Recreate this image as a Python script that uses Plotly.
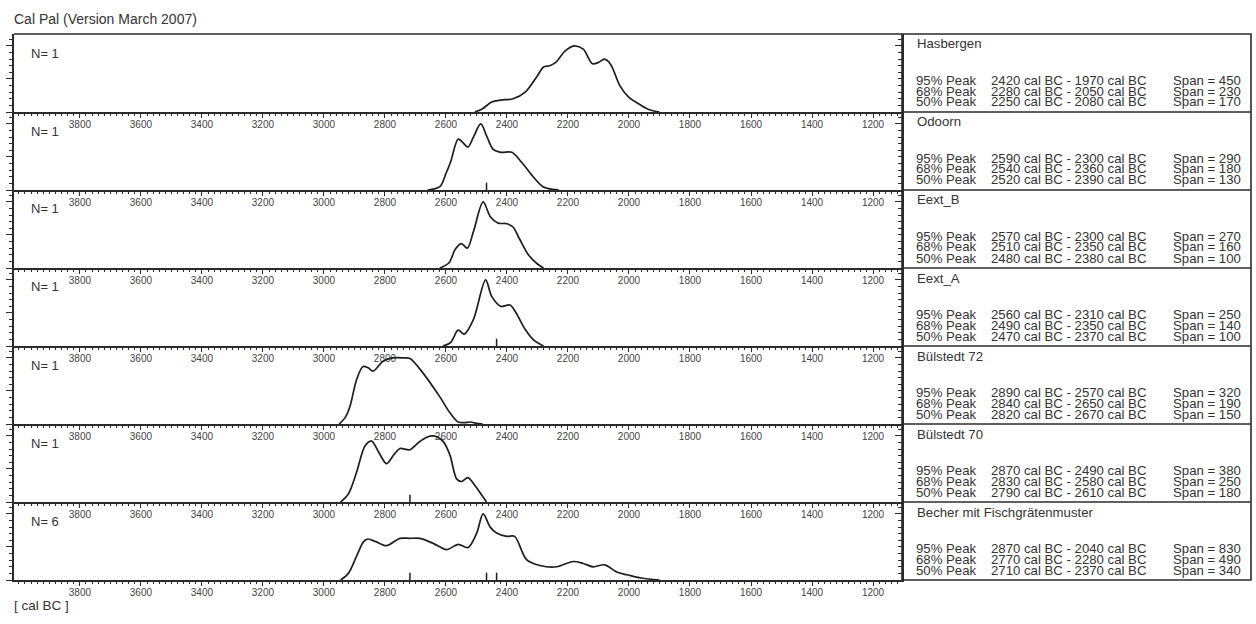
import plotly.graph_objects as go

W, H = 1256, 624

title_text = "Cal Pal (Version March 2007)"
axis_unit = "[ cal BC ]"

names = ["Hasbergen", "Odoorn", "Eext_B", "Eext_A", "Bülstedt 72", "Bülstedt 70",
         "Becher mit Fischgrätenmuster"]
n_dates = [1, 1, 1, 1, 1, 1, 6]

# peak ranges (start, end) in cal BC for 95%, 68%, 50%
peak95 = [(2420, 1970), (2590, 2300), (2570, 2300), (2560, 2310), (2890, 2570), (2870, 2490), (2870, 2040)]
peak68 = [(2280, 2050), (2540, 2360), (2510, 2350), (2490, 2350), (2840, 2650), (2830, 2580), (2770, 2280)]
peak50 = [(2250, 2080), (2520, 2390), (2480, 2380), (2470, 2370), (2820, 2670), (2790, 2610), (2710, 2370)]

# probability curves (years cal BC, relative density)
hasbergen_x = [2505, 2480, 2450, 2420, 2380, 2340, 2300, 2280, 2260, 2240, 2210, 2180, 2150, 2120, 2100, 2080, 2060, 2030, 2000, 1960, 1930, 1900]
hasbergen_y = [0, 0.05, 0.15, 0.18, 0.2, 0.3, 0.55, 0.68, 0.7, 0.75, 0.92, 1.0, 0.95, 0.73, 0.75, 0.8, 0.72, 0.4, 0.22, 0.1, 0.03, 0]

odoorn_x = [2660, 2620, 2600, 2585, 2560, 2545, 2528, 2510, 2486, 2465, 2446, 2420, 2384, 2352, 2314, 2282, 2250, 2230]
odoorn_y = [0, 0.05, 0.25, 0.42, 0.77, 0.72, 0.65, 0.8, 1.0, 0.8, 0.62, 0.57, 0.57, 0.42, 0.2, 0.05, 0.01, 0]

eextb_x = [2620, 2590, 2570, 2550, 2530, 2510, 2478, 2455, 2430, 2400, 2380, 2360, 2330, 2300, 2280]
eextb_y = [0, 0.08, 0.28, 0.37, 0.3, 0.55, 1.0, 0.78, 0.68, 0.67, 0.62, 0.45, 0.2, 0.06, 0]

eexta_x = [2610, 2585, 2560, 2540, 2510, 2470, 2450, 2420, 2390, 2370, 2340, 2310, 2280]
eexta_y = [0, 0.05, 0.24, 0.18, 0.4, 1.0, 0.75, 0.6, 0.62, 0.5, 0.25, 0.08, 0]

bul72_x = [2950, 2930, 2915, 2893, 2872, 2855, 2839, 2806, 2774, 2740, 2718, 2675, 2620, 2587, 2560, 2540, 2520, 2500, 2480]
bul72_y = [0, 0.1, 0.26, 0.67, 0.87, 0.85, 0.8, 0.95, 1.0, 1.0, 0.99, 0.77, 0.41, 0.17, 0.03, 0.02, 0.03, 0.01, 0]

bul70_x = [2945, 2920, 2893, 2865, 2844, 2820, 2795, 2770, 2751, 2718, 2690, 2663, 2640, 2610, 2587, 2565, 2549, 2528, 2505, 2488, 2467]
bul70_y = [0, 0.12, 0.45, 0.85, 0.92, 0.75, 0.58, 0.72, 0.81, 0.79, 0.9, 0.98, 1.0, 0.92, 0.71, 0.35, 0.31, 0.37, 0.25, 0.14, 0]

becher_x = [2945, 2920, 2893, 2870, 2856, 2830, 2795, 2751, 2720, 2685, 2640, 2598, 2560, 2528, 2500, 2478, 2455, 2434, 2400, 2375, 2336, 2292, 2237, 2183, 2150, 2118, 2079, 2040, 2007, 1960, 1900]
becher_y = [0, 0.1, 0.36, 0.58, 0.62, 0.58, 0.52, 0.63, 0.63, 0.63, 0.55, 0.46, 0.54, 0.49, 0.7, 1.0, 0.8, 0.71, 0.66, 0.66, 0.31, 0.22, 0.2, 0.28, 0.25, 0.2, 0.23, 0.12, 0.08, 0.03, 0]

curves_x = [hasbergen_x, odoorn_x, eextb_x, eexta_x, bul72_x, bul70_x, becher_x]
curves_y = [hasbergen_y, odoorn_y, eextb_y, eexta_y, bul72_y, bul70_y, becher_y]

# short vertical markers on the baseline (cal BC)
markers = [[], [2467], [], [2434], [], [2718], [2718, 2467, 2434]]

tick_years = list(range(3800, 1199, -200))
tick_text = [str(v) for v in tick_years]

X_RANGE = [4016, 1105]
Y_RANGE = [0, 1.18]

# layout geometry (pixels)
PLOT_L, PLOT_R = 14, 902
BOX_R = 1251
TOP0, PANEL_H = 34, 78
FONT = "Liberation Sans, Arial, sans-serif"
INK = "#2b2b2b"
TXT = "#333333"
BOX_FS = 13.2


def px_x(p):
    return p / W


def px_y(p):
    return 1 - p / H


fig = go.Figure()
n = len(names)

for i in range(n):
    k = "" if i == 0 else str(i + 1)
    xa, ya = "x" + k, "y" + k
    fig.add_trace(go.Scatter(x=curves_x[i], y=curves_y[i], mode="lines",
                             line=dict(color="#1e1e1e", width=1.7, shape="spline", smoothing=0.9),
                             xaxis=xa, yaxis=ya, showlegend=False, hoverinfo="skip"))
    for m in markers[i]:
        fig.add_trace(go.Scatter(x=[m, m], y=[0, 0.11], mode="lines",
                                 line=dict(color="#1e1e1e", width=1.5),
                                 xaxis=xa, yaxis=ya, showlegend=False, hoverinfo="skip"))
    # helper trace for right-side tick axis
    fig.add_trace(go.Scatter(x=curves_x[i], y=curves_y[i], mode="lines",
                             line=dict(width=0), opacity=0,
                             xaxis=xa, yaxis="y" + str(n + i + 1), showlegend=False, hoverinfo="skip"))

    top = TOP0 + PANEL_H * i
    bot = top + PANEL_H
    dom = [px_y(bot), px_y(top)]

    fig.layout["xaxis" + k] = dict(
        domain=[px_x(PLOT_L), px_x(PLOT_R)], range=X_RANGE, anchor=ya,
        showline=True, linecolor=INK, linewidth=1.6,
        tickmode="array", tickvals=tick_years, ticktext=tick_text,
        ticks="outside", ticklen=4, tickwidth=1.2, tickcolor=INK,
        ticklabelstandoff=-2,
        minor=dict(tickmode="linear", tick0=0, dtick=20, ticks="outside",
                   ticklen=2, tickwidth=1, tickcolor=INK),
        tickfont=dict(family=FONT, size=10, color="#444444"),
        showgrid=False, zeroline=False, fixedrange=True,
    )
    fig.layout["yaxis" + k] = dict(
        domain=dom, range=Y_RANGE, anchor=xa,
        showline=True, linecolor=INK, linewidth=1.6,
        tickmode="linear", tick0=0, dtick=0.5, ticks="outside", ticklen=6,
        tickwidth=1.2, tickcolor=INK, showticklabels=False,
        minor=dict(tickmode="linear", tick0=0, dtick=0.1, ticks="outside",
                   ticklen=3, tickwidth=1, tickcolor=INK),
        showgrid=False, zeroline=False, fixedrange=True,
    )
    fig.layout["yaxis" + str(n + i + 1)] = dict(
        overlaying=ya, anchor=xa, side="right", range=Y_RANGE,
        showline=True, linecolor=INK, linewidth=1.6,
        tickmode="array", tickvals=[1.0], ticks="inside", ticklen=7,
        tickwidth=1.2, tickcolor=INK, showticklabels=False,
        minor=dict(tickmode="linear", tick0=0, dtick=0.1, ticks="inside",
                   ticklen=4, tickwidth=1, tickcolor=INK),
        showgrid=False, zeroline=False, fixedrange=True,
    )

    # N label
    fig.add_annotation(x=px_x(29), y=px_y(top + 19), xref="paper", yref="paper",
                       text=f"N= {n_dates[i]}", showarrow=False, xanchor="left",
                       yanchor="middle", font=dict(family=FONT, size=13, color=TXT))
    # right box text
    fig.add_annotation(x=px_x(915), y=px_y(top + 10), xref="paper", yref="paper",
                       text=names[i], showarrow=False, xanchor="left", yanchor="middle",
                       font=dict(family=FONT, size=BOX_FS, color=TXT))
    for j, (lab, pk) in enumerate([("95% Peak", peak95[i]), ("68% Peak", peak68[i]),
                                   ("50% Peak", peak50[i])]):
        yy = px_y(top + 46 + 11 * j)
        for xp, t in [(915, lab),
                      (990, f"{pk[0]} cal BC - {pk[1]} cal BC"),
                      (1172, f"Span = {pk[0] - pk[1]}")]:
            fig.add_annotation(x=px_x(xp), y=yy, xref="paper", yref="paper", text=t,
                               showarrow=False, xanchor="left", yanchor="middle",
                               borderpad=0,
                               font=dict(family=FONT, size=BOX_FS, color=TXT))

shapes = []
# right box
shapes.append(dict(type="rect", xref="paper", yref="paper",
                   x0=px_x(PLOT_R), x1=px_x(BOX_R), y0=px_y(TOP0 + PANEL_H * n), y1=px_y(TOP0),
                   line=dict(color=INK, width=1.6)))
for i in range(1, n):
    yy = px_y(TOP0 + PANEL_H * i)
    shapes.append(dict(type="line", xref="paper", yref="paper", x0=px_x(PLOT_R), x1=px_x(BOX_R),
                       y0=yy, y1=yy, line=dict(color=INK, width=1.6)))
# top border of plot area
shapes.append(dict(type="line", xref="paper", yref="paper", x0=px_x(PLOT_L), x1=px_x(PLOT_R),
                   y0=px_y(TOP0), y1=px_y(TOP0), line=dict(color=INK, width=1.6)))

fig.add_annotation(x=px_x(12), y=px_y(19), xref="paper", yref="paper", text=title_text,
                   showarrow=False, xanchor="left", yanchor="middle",
                   font=dict(family=FONT, size=14, color=TXT))
fig.add_annotation(x=px_x(12), y=px_y(605), xref="paper", yref="paper", text=axis_unit,
                   showarrow=False, xanchor="left", yanchor="middle",
                   font=dict(family=FONT, size=13.5, color=TXT))

fig.update_layout(width=W, height=H, autosize=False,
                  margin=dict(l=0, r=0, t=0, b=0),
                  paper_bgcolor="white", plot_bgcolor="white",
                  shapes=shapes, showlegend=False)

fig.write_html("out.html", config={"displayModeBar": False},
               post_script="document.body.style.margin='0';document.body.style.overflow='hidden';")
